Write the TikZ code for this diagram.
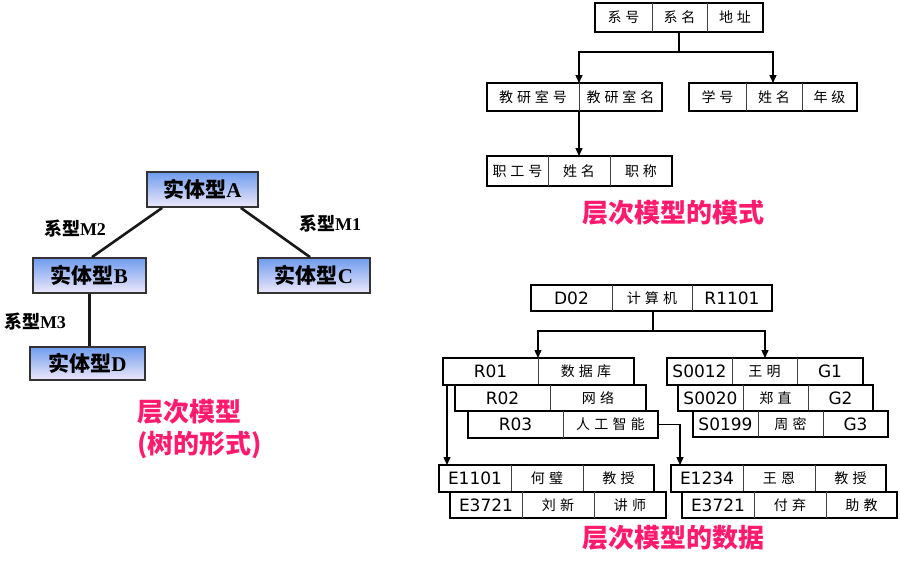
\documentclass[tikz,border=0pt]{standalone}
\usepackage{fontspec}
\setmainfont{Liberation Serif}
\newfontfamily\cjk{Noto Sans CJK SC}
\newfontfamily\cjkls{Noto Sans CJK SC}[LetterSpace=30]
\newfontfamily\cjklt{Noto Sans CJK SC}[LetterSpace=28]
\newfontfamily\lat{DejaVu Sans}
\usetikzlibrary{arrows.meta}
\definecolor{pinkt}{HTML}{FF1A6E}
\definecolor{topblue}{HTML}{6F9CEE}
\definecolor{botblue}{HTML}{EEE8FA}
\newcommand\cd[1]{{\cjkls\fontsize{14}{16}\selectfont #1}}
\newcommand\cs[1]{{\cjklt\fontsize{14}{16}\selectfont #1}}
\newcommand\tc[1]{{\cjk #1}}
% record: name, x0, y0, x1, y1, list a/b/text
\newcommand\rec[6]{%
  \node[recbox, minimum width={(#4-#2)*1pt}, minimum height={(#5-#3)*1pt}] (#1) at ({(#2+#4)/2},{(#3+#5)/2}) {};
  \foreach \a/\b/\t [count=\i] in {#6} {
    \node[celltext] (#1-\i) at ({(\a+\b)/2},{(#3+#5)/2}) {\t};
    \ifdim \a pt>#2pt \draw[divider] (\a,#3) -- (\a,#5); \fi
  }%
}
\begin{document}
\begin{tikzpicture}[x=1pt,y=-1pt,
  recbox/.style={draw=black, line width=1.5pt, fill=white, inner sep=0pt, outer sep=0pt},
  celltext/.style={inner sep=0pt, font=\lat\fontsize{17}{20}\selectfont},
  divider/.style={draw=black!75, line width=0.9pt},
  ent/.style={draw=black!80, line width=1.8pt, top color=topblue, bottom color=botblue,
    minimum width=111pt, minimum height=35pt, inner sep=0pt, font=\fontsize{21}{23}\selectfont\bfseries},
  tline/.style={draw=black!90, line width=2.6pt},
  lab/.style={inner sep=0pt, font=\fontsize{18}{20}\selectfont\bfseries},
  ttl/.style={inner sep=0pt, text=pinkt, font=\cjk\fontsize{26}{30}\selectfont\bfseries},
  conn/.style={draw=black, line width=1.4pt},
  arr/.style={conn, -{Triangle[length=8pt,width=7pt]}}
]
\useasboundingbox (0,0) rectangle (900,570);
\fill[white] (0,0) rectangle (900,570);

% ---------------- left tree ----------------
\node[ent] (A) at (202.5,189.5) {\tc{实体型}A};
\node[ent, minimum width=113pt] (B) at (89.5,275.5) {\tc{实体型}B};
\node[ent, minimum width=112pt] (C) at (314,275.5) {\tc{实体型}C};
\node[ent, minimum width=115pt, minimum height=33pt] (D) at (87.5,363.5) {\tc{实体型}D};
\draw[tline] ([xshift=16pt]A.south west) -- ([xshift=2.5pt]B.north);
\draw[tline] ([xshift=-18pt]A.south east) -- ([xshift=-4pt]C.north);
\draw[tline] (B.south) -- (B.south |- D.north);
\node[lab] (m2) at (75,229) {\tc{系型}M2};
\node[lab] (m1) at (330,224) {\tc{系型}M1};
\node[lab] (m3) at (35,322) {\tc{系型}M3};
\node[ttl, anchor=west] (lt1) at (137,412) {层次模型};
\node[ttl, anchor=west] (lt2) at (137,445) {(树的形式)};

% ---------------- schema ----------------
\rec{stop}{595}{3}{763}{32}{595/652/{\cs{系号}}, 652/707/{\cs{系名}}, 707/763/{\cs{地址}}}
\rec{sl}{487}{83}{662}{111}{487/579/{\cs{教研室号}}, 579/662/{\cs{教研室名}}}
\rec{sr}{689}{83}{857}{111}{689/746/{\cs{学号}}, 746/802/{\cs{姓名}}, 802/857/{\cs{年级}}}
\rec{sb}{487}{156}{672}{186}{487/548/{\cs{职工号}}, 548/610/{\cs{姓名}}, 610/672/{\cs{职称}}}
\coordinate (s1) at (679,52);
\coordinate (s2) at (579,52);
\coordinate (s3) at (773,52);
\draw[conn] (stop.south -| s1) -- (s1);
\draw[arr] (s1) -- (s2) -- (sl.north -| s2);
\draw[arr] (s1) -- (s3) -- (sr.north -| s3);
\draw[arr] (sl.south -| s2) -- (sb.north -| s2);
\node[ttl] (st) at (673,213) {层次模型的模式};

% ---------------- data ----------------
\rec{dtop}{531}{285}{772}{311}{531/612/{D02}, 612/692/{\cd{计算机}}, 692/772/{R1101}}
\rec{r1}{443}{358}{634}{385}{443/538/{R01}, 538/634/{\cd{数据库}}}
\rec{r2}{455}{385}{646}{411}{455/550/{R02}, 550/646/{\cd{网络}}}
\rec{r3}{468}{411}{658}{438}{468/563/{R03}, 563/658/{\cd{人工智能}}}
\rec{s12}{667}{358}{863}{385}{667/732/{S0012}, 732/797/{\cd{王明}}, 797/863/{G1}}
\rec{s20}{678}{385}{873}{411}{678/743/{S0020}, 743/808/{\cd{郑直}}, 808/873/{G2}}
\rec{s199}{693}{411}{888}{437}{693/758/{S0199}, 758/823/{\cd{周密}}, 823/888/{G3}}
\rec{e1}{439}{465}{654}{492}{439/511/{E1101}, 511/583/{\cd{何璧}}, 583/654/{\cd{教授}}}
\rec{e2}{450}{492}{666}{518}{450/522/{E3721}, 522/594/{\cd{刘新}}, 594/666/{\cd{讲师}}}
\rec{e3}{671}{465}{886}{492}{671/743/{E1234}, 743/815/{\cd{王恩}}, 815/886/{\cd{教授}}}
\rec{e4}{682}{492}{897}{518}{682/754/{E3721}, 754/826/{\cd{付弃}}, 826/897/{\cd{助教}}}
\coordinate (d1) at (653,331);
\coordinate (d2) at (538,331);
\coordinate (d3) at (765,331);
\draw[conn] (dtop.south -| d1) -- (d1);
\draw[arr] (d1) -- (d2) -- (r1.north -| d2);
\draw[arr] (d1) -- (d3) -- (s12.north -| d3);
\coordinate (x1) at (447,420);
\coordinate (x2) at (680,424.5);
\draw[arr] (r1.south -| x1) -- (e1.north -| x1);
\draw[arr] (r3.east) -- (x2) -- (e3.north -| x2);
\node[ttl] (dt) at (673,538) {层次模型的数据};
\end{tikzpicture}
\end{document}
